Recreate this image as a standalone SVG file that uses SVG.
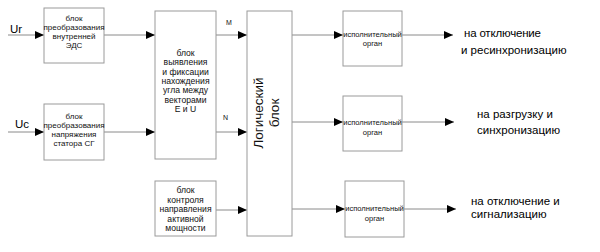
<svg xmlns="http://www.w3.org/2000/svg" width="600" height="252" viewBox="0 0 600 252">
<style>
.box{fill:#fff;stroke:#9a9a9a;stroke-width:1}
.ln{stroke:#8a8a8a;stroke-width:1;fill:none}
.t{font-family:"Liberation Sans",Arial,sans-serif;fill:#111;text-anchor:middle}
.bt{font-size:8px}
.et{font-size:7.6px}
.lbl{font-family:"Liberation Sans",Arial,sans-serif;fill:#000;font-size:11.5px}
.sm{font-family:"Liberation Sans",Arial,sans-serif;fill:#111;font-size:7px}
</style>
<defs>
<marker id="ah" markerUnits="userSpaceOnUse" markerWidth="9" markerHeight="8" refX="9" refY="4" orient="auto">
<path d="M0,0 L9,4 L0,8 z" fill="#000"/>
</marker>
</defs>
<g id="connectors">
<line class="ln" x1="8" y1="35" x2="44" y2="35" marker-end="url(#ah)"/>
<line class="ln" x1="8" y1="132" x2="44" y2="132" marker-end="url(#ah)"/>
<line class="ln" x1="104" y1="35" x2="155" y2="35" marker-end="url(#ah)"/>
<line class="ln" x1="104" y1="132" x2="155" y2="132" marker-end="url(#ah)"/>
<line class="ln" x1="216" y1="35" x2="247" y2="35" marker-end="url(#ah)"/>
<line class="ln" x1="216" y1="132" x2="247" y2="132" marker-end="url(#ah)"/>
<line class="ln" x1="216" y1="210" x2="247" y2="210" marker-end="url(#ah)"/>
<line class="ln" x1="292" y1="35" x2="343" y2="35" marker-end="url(#ah)"/>
<line class="ln" x1="292" y1="122" x2="343" y2="122" marker-end="url(#ah)"/>
<line class="ln" x1="292" y1="209" x2="345" y2="209" marker-end="url(#ah)"/>
<line class="ln" x1="402" y1="35" x2="453" y2="35" marker-end="url(#ah)"/>
<line class="ln" x1="402" y1="122" x2="454" y2="122" marker-end="url(#ah)"/>
<line class="ln" x1="404" y1="209" x2="456" y2="209" marker-end="url(#ah)"/>
<text class="sm" x="226" y="25">M</text>
<text class="sm" x="223" y="120">N</text>
</g>
<g id="in-ur"><text class="lbl" x="10" y="33">Ur</text></g>
<g id="in-uc"><text class="lbl" x="15" y="127.5">Uc</text></g>
<g id="b1">
<rect class="box" x="44" y="8" width="60" height="55"/>
<text class="t bt" x="74" y="21">блок</text>
<text class="t bt" x="74" y="30">преобразования</text>
<text class="t bt" x="74" y="39">внутренней</text>
<text class="t bt" x="74" y="48">ЭДС</text>
</g>
<g id="b2">
<rect class="box" x="44" y="104" width="60" height="56"/>
<text class="t bt" x="74" y="119">блок</text>
<text class="t bt" x="74" y="128">преобразования</text>
<text class="t bt" x="74" y="137">напряжения</text>
<text class="t bt" x="74" y="146">статора СГ</text>
</g>
<g id="b3">
<rect class="box" x="155" y="11" width="61" height="148"/>
<text class="t" font-size="8.6" x="185.5" y="56">блок</text>
<text class="t" font-size="8.6" x="185.5" y="65.3">выявления</text>
<text class="t" font-size="8.6" x="185.5" y="74.6">и фиксации</text>
<text class="t" font-size="8.6" x="185.5" y="83.9">нахождения</text>
<text class="t" font-size="8.6" x="185.5" y="93.2">угла между</text>
<text class="t" font-size="8.6" x="185.5" y="102.5">векторами</text>
<text class="t" font-size="8.6" x="185.5" y="111.8">Е и U</text>
</g>
<g id="b4">
<rect class="box" x="155" y="181" width="61" height="55"/>
<text class="t" font-size="8.6" x="185.5" y="193">блок</text>
<text class="t" font-size="8.6" x="185.5" y="202.5">контроля</text>
<text class="t" font-size="8.6" x="185.5" y="212">направления</text>
<text class="t" font-size="8.6" x="185.5" y="221.5">активной</text>
<text class="t" font-size="8.6" x="185.5" y="231">мощности</text>
</g>
<g id="logic">
<rect class="box" x="247" y="11" width="45" height="225"/>
<g transform="translate(269.5,113) rotate(-90)">
<text class="t" font-size="13.5" x="0" y="-7">Логический</text>
<text class="t" font-size="13.5" x="0" y="9">блок</text>
</g>
</g>
<g id="e1">
<rect class="box" x="343" y="11" width="59" height="55"/>
<text class="t et" x="372.5" y="37">исполнительный</text>
<text class="t et" x="372.5" y="46">орган</text>
</g>
<g id="e2">
<rect class="box" x="343" y="96" width="59" height="55"/>
<text class="t et" x="372.5" y="125">исполнительный</text>
<text class="t et" x="372.5" y="135">орган</text>
</g>
<g id="e3">
<rect class="box" x="345" y="181" width="59" height="56"/>
<text class="t et" x="374.5" y="211">исполнительный</text>
<text class="t et" x="374.5" y="221">орган</text>
</g>
<g id="out1">
<text class="lbl" x="464" y="36.5" textLength="77">на отключение</text>
<text class="lbl" x="461" y="53.5">и ресинхронизацию</text>
</g>
<g id="out2">
<text class="lbl" x="477" y="118">на разгрузку и</text>
<text class="lbl" x="477" y="134">синхронизацию</text>
</g>
<g id="out3">
<text class="lbl" x="471" y="205">на отключение и</text>
<text class="lbl" x="471" y="217.5">сигнализацию</text>
</g>
</svg>
